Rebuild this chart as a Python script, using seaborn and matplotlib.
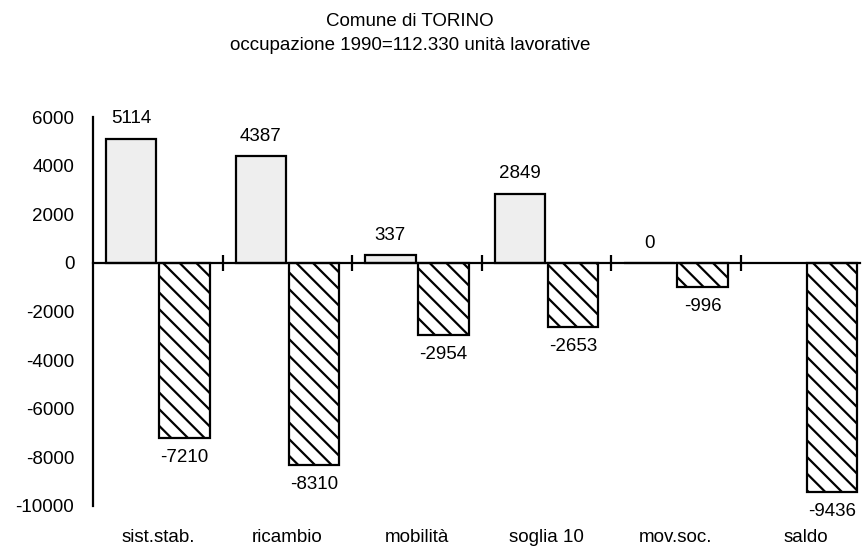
import numpy as np
import pandas as pd
import matplotlib
matplotlib.use("Agg")
import matplotlib.pyplot as plt
import matplotlib.transforms as mtransforms
import seaborn as sns

categories = ["sist.stab.", "ricambio", "mobilità", "soglia 10", "mov.soc.", "saldo"]
positivi = [5114, 4387, 337, 2849, 0, np.nan]
negativi = [-7210, -8310, -2954, -2653, -996, -9436]
yticks = [-10000, -8000, -6000, -4000, -2000, 0, 2000, 4000, 6000]
title1 = "Comune di TORINO"
title2 = "occupazione 1990=112.330 unità lavorative"

sns.set_style("white")
plt.rcParams["font.family"] = ["Liberation Sans", "DejaVu Sans"]
plt.rcParams["axes.unicode_minus"] = False
plt.rcParams["hatch.color"] = "black"
plt.rcParams["hatch.linewidth"] = 1.6
plt.rcParams["text.color"] = "black"
plt.rcParams["xtick.color"] = "black"
plt.rcParams["ytick.color"] = "black"
plt.rcParams["xtick.labelcolor"] = "black"
plt.rcParams["ytick.labelcolor"] = "black"

FS = 13.5

df = pd.DataFrame({
    "cat": categories * 2,
    "serie": ["pos"] * len(categories) + ["neg"] * len(categories),
    "val": positivi + negativi,
}).dropna()

fig = plt.figure(figsize=(8.63, 5.5), dpi=100)
ax = fig.add_axes([93 / 863, 1 - 506 / 550, (860 - 93) / 863, (506 - 117) / 550])

sns.barplot(data=df, x="cat", y="val", hue="serie", order=categories,
            hue_order=["pos", "neg"], palette={"pos": "#eeeeee", "neg": "white"},
            edgecolor="black", linewidth=1.6, saturation=1, width=0.82, gap=0.05,
            errorbar=None, legend=False, ax=ax)

for bar in ax.containers[1]:
    bar.set_hatch("\\\\")

for cont in ax.containers:
    ax.bar_label(cont, fmt="%d", padding=8, fontsize=FS, color="black")

ax.set_ylim(-10000, 6000)
ax.set_xlim(-0.5, 5.42)
ax.set_yticks(yticks)
ax.set_yticklabels([str(v) for v in yticks])
ax.set_xticks([i + 0.5 for i in range(len(categories) - 1)])
ax.set_xticklabels([])
ax.set_xlabel("")
ax.set_ylabel("")

for s in ["top", "right"]:
    ax.spines[s].set_visible(False)
ax.spines["bottom"].set_position(("data", 0))
for s in ["left", "bottom"]:
    ax.spines[s].set_linewidth(1.6)
    ax.spines[s].set_color("black")

ax.tick_params(axis="both", direction="inout", length=11, width=1.6, color="black",
               labelsize=FS, labelcolor="black", pad=6)
ax.tick_params(axis="y", pad=8)
ax.tick_params(axis="x", bottom=True)

trans = mtransforms.blended_transform_factory(ax.transData, ax.transAxes)
for i, c in enumerate(categories):
    ax.text(i, -0.08, c, transform=trans, ha="center", va="center", fontsize=FS, color="black")

fig.text(410 / 863, 1 - 22 / 550, title1, ha="center", va="center", fontsize=FS, color="black")
fig.text(410 / 863, 1 - 45 / 550, title2, ha="center", va="center", fontsize=FS, color="black")

fig.savefig("out.png", dpi=100)
